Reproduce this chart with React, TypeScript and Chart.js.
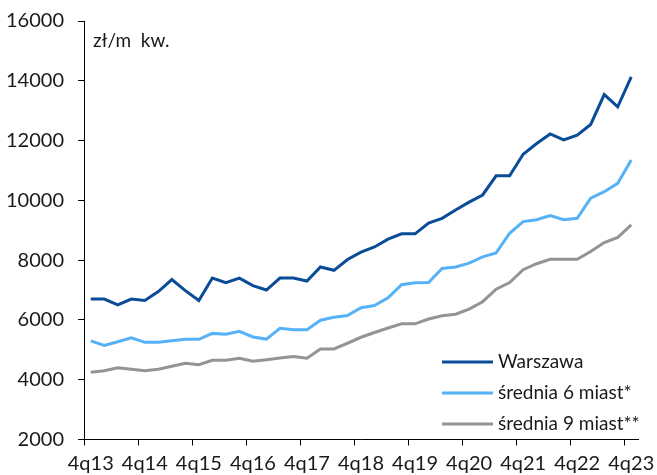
import React, { useEffect, useRef } from "react";
import { Chart, registerables } from "chart.js";

Chart.register(...registerables);

const FONT = "Lato, 'DejaVu Sans', sans-serif";

const quarters = [
  "4q13",
  "1q14", "2q14", "3q14", "4q14",
  "1q15", "2q15", "3q15", "4q15",
  "1q16", "2q16", "3q16", "4q16",
  "1q17", "2q17", "3q17", "4q17",
  "1q18", "2q18", "3q18", "4q18",
  "1q19", "2q19", "3q19", "4q19",
  "1q20", "2q20", "3q20", "4q20",
  "1q21", "2q21", "3q21", "4q21",
  "1q22", "2q22", "3q22", "4q22",
  "1q23", "2q23", "3q23", "4q23",
];

const warszawa = [
  6700, 6700, 6500, 6700, 6650, 6950, 7350, 6980, 6650, 7400,
  7250, 7400, 7150, 7000, 7400, 7400, 7300, 7770, 7660, 8020,
  8270, 8440, 8700, 8880, 8880, 9240, 9400, 9680, 9940, 10180,
  10820, 10820, 11540, 11900, 12220, 12020, 12180, 12540, 13540, 13130,
  14130,
];

const srednia6 = [
  5300, 5150, 5270, 5400, 5250, 5250, 5300, 5350, 5350, 5550,
  5520, 5620, 5430, 5360, 5720, 5670, 5670, 5990, 6090, 6150,
  6410, 6480, 6740, 7180, 7240, 7250, 7720, 7770, 7900, 8110,
  8240, 8900, 9290, 9350, 9490, 9350, 9400, 10070, 10290, 10570,
  11350,
];

const srednia9 = [
  4250, 4300, 4400, 4350, 4300, 4350, 4450, 4550, 4500, 4650,
  4650, 4720, 4620, 4670, 4730, 4780, 4720, 5030, 5030, 5220,
  5420, 5580, 5730, 5870, 5870, 6030, 6140, 6190, 6360, 6610,
  7030, 7250, 7680, 7880, 8030, 8030, 8030, 8290, 8590, 8760,
  9180,
];

const seriesNames = ["Warszawa", "średnia 6 miast*", "średnia 9 miast**"];
const seriesColors = ["#0A4C97", "#56B2F7", "#949494"];
const unitLabel = "zł/m  kw.";
const yMin = 2000;
const yMax = 16000;
const yStep = 2000;

const overlayPlugin = {
  id: "overlay",
  afterDraw(chart: any) {
    const { ctx, chartArea } = chart;
    ctx.save();
    ctx.fillStyle = "#1a1a1a";
    ctx.textBaseline = "middle";
    ctx.textAlign = "left";
    ctx.font = `19px ${FONT}`;
    ctx.fillText(unitLabel, chartArea.left + 9, chartArea.top + 20);

    const rowOffsets = [77.5, 46.5, 15.5];
    chart.data.datasets.forEach((ds: any, i: number) => {
      const y = chartArea.bottom - rowOffsets[i];
      ctx.strokeStyle = ds.borderColor;
      ctx.lineWidth = 3;
      ctx.beginPath();
      ctx.moveTo(chartArea.right - 196, y);
      ctx.lineTo(chartArea.right - 145, y);
      ctx.stroke();
      ctx.fillStyle = "#1a1a1a";
      ctx.fillText(ds.label, chartArea.right - 140, y);
    });
    ctx.restore();
  },
};

export default function App() {
  const ref = useRef<HTMLCanvasElement | null>(null);

  useEffect(() => {
    if (!ref.current) return;
    const data = [warszawa, srednia6, srednia9];
    const chart = new Chart(ref.current, {
      type: "line",
      data: {
        labels: quarters,
        datasets: data.map((d, i) => ({
          label: seriesNames[i],
          data: d,
          borderColor: seriesColors[i],
          backgroundColor: seriesColors[i],
          borderWidth: 3,
          pointRadius: 0,
          tension: 0,
          fill: false,
        })),
      },
      options: {
        animation: false,
        responsive: false,
        devicePixelRatio: 1,
        layout: { padding: { top: 21, right: 19, left: 0, bottom: 0 } },
        plugins: {
          legend: { display: false },
          tooltip: { enabled: false },
        },
        scales: {
          x: {
            type: "category",
            offset: true,
            grid: {
              offset: true,
              drawOnChartArea: false,
              drawTicks: true,
              tickLength: 6,
              lineWidth: 1,
              color: (ctx: any) =>
                ctx.index !== undefined && ctx.index % 4 === 0 ? "#000" : "rgba(0,0,0,0)",
            },
            border: { display: true, color: "#000", width: 1 },
            ticks: {
              autoSkip: false,
              maxRotation: 0,
              minRotation: 0,
              padding: 6,
              color: "#1a1a1a",
              font: { family: FONT, size: 20 },
              callback: (_v: any, i: number) => (i % 4 === 0 ? quarters[i] : ""),
            },
            afterFit: (s: any) => {
              s.height = 35.5;
              s.paddingLeft = 0;
              s.paddingRight = 0;
            },
          },
          y: {
            min: yMin,
            max: yMax,
            grid: {
              drawOnChartArea: false,
              drawTicks: true,
              tickLength: 6,
              color: "#000",
            },
            border: { display: true, color: "#000", width: 1 },
            ticks: {
              stepSize: yStep,
              padding: 14,
              color: "#1a1a1a",
              font: { family: FONT, size: 20 },
              callback: (v: any) => String(v),
            },
            afterFit: (s: any) => {
              s.width = 84;
              s.paddingTop = 0;
              s.paddingBottom = 0;
            },
          },
        },
      } as any,
      plugins: [overlayPlugin],
    });
    return () => chart.destroy();
  }, []);

  return (
    <div style={{ position: "absolute", left: 0, top: 0, width: 657, height: 475, background: "#fff" }}>
      <canvas ref={ref} width={657} height={475} />
    </div>
  );
}
